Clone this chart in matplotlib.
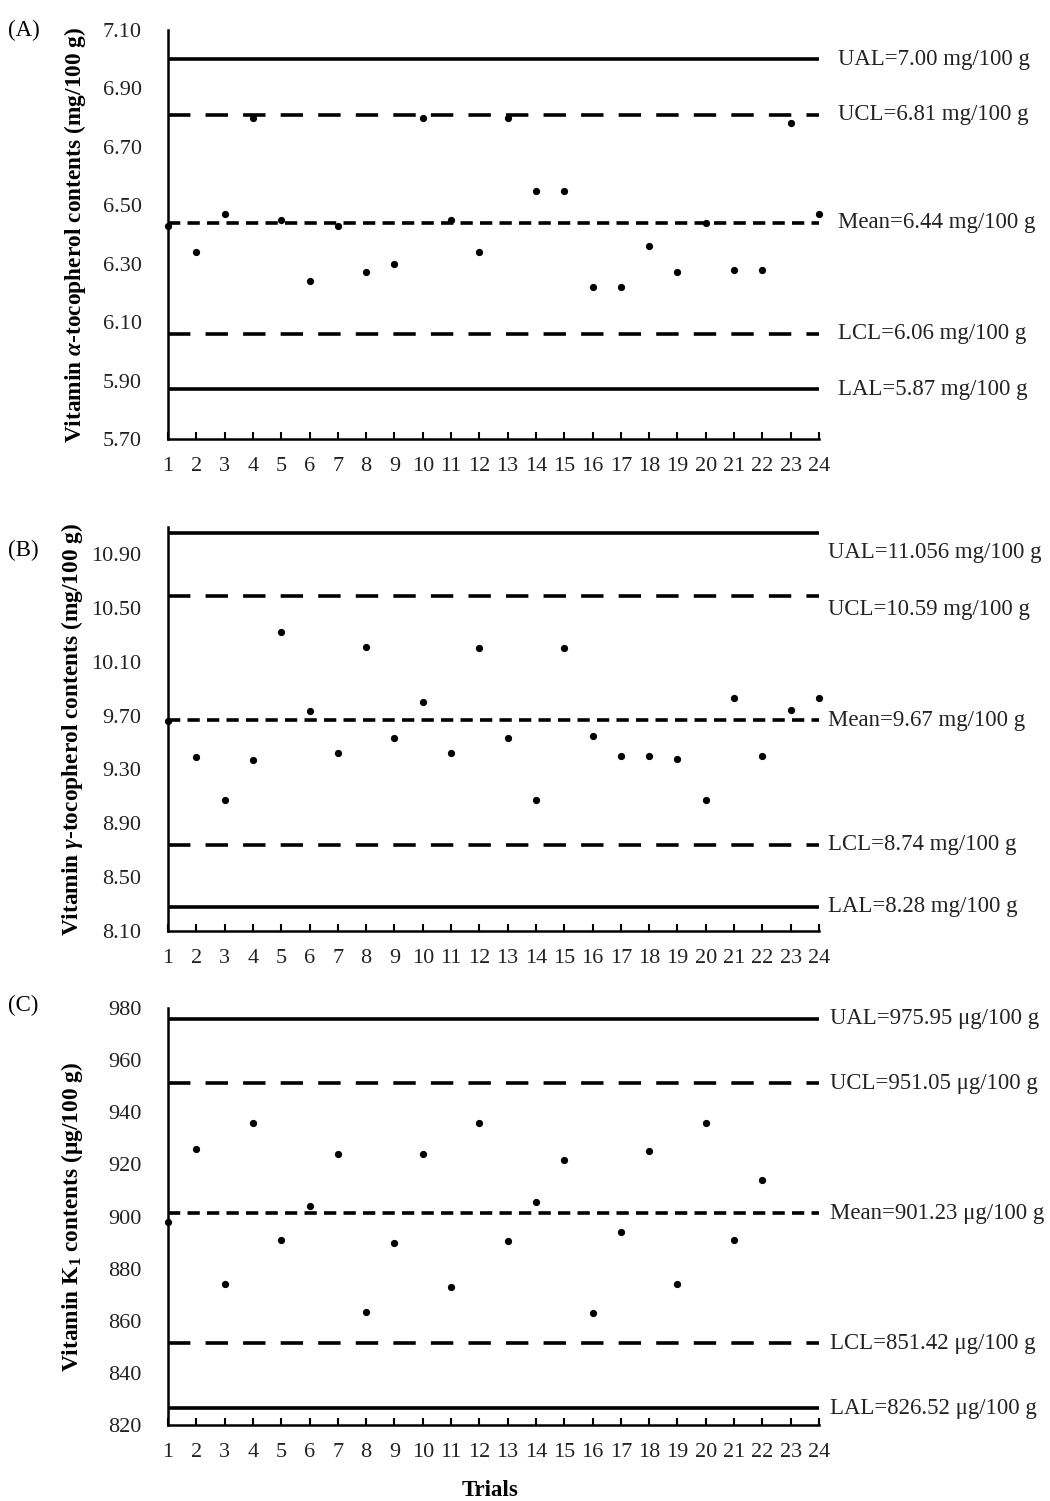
import matplotlib
matplotlib.use("Agg")
import matplotlib.pyplot as plt
from matplotlib.transforms import blended_transform_factory

plt.rcParams['font.family'] = ['Liberation Serif', 'DejaVu Serif']
plt.rcParams['mathtext.fontset'] = 'custom'
plt.rcParams['mathtext.rm'] = 'Liberation Serif'
plt.rcParams['mathtext.it'] = 'Liberation Serif:italic'
plt.rcParams['mathtext.bf'] = 'Liberation Serif:bold'
plt.rcParams['mathtext.bfit'] = 'Liberation Serif:italic:bold'

# ---------------- data ----------------
trials = list(range(1, 25))
tick_labels = [str(t) for t in trials]

alpha_vals = [6.43, 6.34, 6.47, 6.80, 6.45, 6.24, 6.43, 6.27, 6.30, 6.80, 6.45, 6.34,
              6.80, 6.55, 6.55, 6.22, 6.22, 6.36, 6.27, 6.44, 6.28, 6.28, 6.78, 6.47]
gamma_vals = [9.66, 9.39, 9.07, 9.37, 10.32, 9.73, 9.42, 10.21, 9.53, 9.80, 9.42, 10.20,
              9.53, 9.07, 10.20, 9.55, 9.40, 9.40, 9.38, 9.07, 9.83, 9.40, 9.74, 9.83]
k1_trials = list(range(1, 23))
k1_vals = [898, 926, 874, 936, 891, 904, 924, 863.5, 890, 924, 873, 936,
           890.5, 905.5, 921.5, 863, 894, 925, 874, 936, 891, 914]

limit_names = ['UAL', 'UCL', 'Mean', 'LCL', 'LAL']
alpha_limits = [7.00, 6.81, 6.44, 6.06, 5.87]
alpha_limit_text = ['7.00', '6.81', '6.44', '6.06', '5.87']
gamma_limits = [11.056, 10.59, 9.67, 8.74, 8.28]
gamma_limit_text = ['11.056', '10.59', '9.67', '8.74', '8.28']
k1_limits = [975.95, 951.05, 901.23, 851.42, 826.52]
k1_limit_text = ['975.95', '951.05', '901.23', '851.42', '826.52']

alpha_yticks = [5.70, 5.90, 6.10, 6.30, 6.50, 6.70, 6.90, 7.10]
gamma_yticks = [8.10, 8.50, 8.90, 9.30, 9.70, 10.10, 10.50, 10.90]
k1_yticks = [820, 840, 860, 880, 900, 920, 940, 960, 980]

# ---------------- layout ----------------
W, H = 1050, 1501
fig = plt.figure(figsize=(W / 100, H / 100), dpi=100)


def rect(left, top, right, bottom):
    return [left / W, 1 - bottom / H, (right - left) / W, (bottom - top) / H]


panels = [
    dict(rect=rect(168, 30, 819, 439), x=trials, y=alpha_vals, lim=(5.70, 7.10),
         yticks=alpha_yticks, yfmt='{:.2f}', limits=alpha_limits, ltext=alpha_limit_text,
         unit='mg/100 g', lx=1.029, loff=[0, 0, 0, 0, 0],
         ylabel=r'Vitamin $\mathbfit{\alpha}$-tocopherol contents (mg/100 g)',
         letter='(A)', letter_y=30, ylab_x=75),
    dict(rect=rect(168, 527, 819, 931), x=trials, y=gamma_vals, lim=(8.10, 11.10),
         yticks=gamma_yticks, yfmt='{:.2f}', limits=gamma_limits, ltext=gamma_limit_text,
         unit='mg/100 g', lx=1.014, loff=[-0.145, -0.10, -0.01, 0, 0],
         ylabel=r'Vitamin $\mathbfit{\gamma}$-tocopherol contents (mg/100 g)',
         letter='(B)', letter_y=550, ylab_x=72),
    dict(rect=rect(168, 1008, 819, 1425), x=k1_trials, y=k1_vals, lim=(820, 980),
         yticks=k1_yticks, yfmt='{:.0f}', limits=k1_limits, ltext=k1_limit_text,
         unit='\u03bcg/100 g', lx=1.017, loff=[0, 0, 0, 0, 0],
         ylabel=r'Vitamin K$_\mathbf{1}$ contents (μg/100 g)',
         letter='(C)', letter_y=1005, ylab_x=72),
]

styles = {
    'UAL': dict(linestyle='-', lw=2.6),
    'UCL': dict(linestyle=(0, (6.2, 4.2)), lw=2.6),
    'Mean': dict(linestyle=(0, (3.4, 2.0)), lw=2.6),
    'LCL': dict(linestyle=(0, (6.2, 4.2)), lw=2.6),
    'LAL': dict(linestyle='-', lw=2.6),
}

for p in panels:
    ax = fig.add_axes(p['rect'])
    ax.set_xlim(1, 24)
    ax.set_ylim(*p['lim'])
    for name, val in zip(limit_names, p['limits']):
        ax.plot([1, 24], [val, val], color='black', solid_capstyle='butt',
                dash_capstyle='butt', clip_on=False, **styles[name])
    ax.plot(p['x'], p['y'], 'o', color='black', markersize=4.2, clip_on=False, zorder=5)

    for s in ['top', 'right']:
        ax.spines[s].set_visible(False)
    for s in ['left', 'bottom']:
        ax.spines[s].set_linewidth(1.8)
    ax.set_xticks(trials)
    ax.set_xticklabels(tick_labels)
    ax.tick_params(axis='x', direction='in', length=5, width=1.5, pad=13,
                   labelsize=16, labelcolor='#222222')
    ax.set_yticks(p['yticks'])
    ax.set_yticklabels([p['yfmt'].format(v) for v in p['yticks']])
    ax.tick_params(axis='y', length=0, pad=19, labelsize=16, labelcolor='#222222')

    tr = blended_transform_factory(ax.transAxes, ax.transData)
    for name, val, txt, off in zip(limit_names, p['limits'], p['ltext'], p['loff']):
        ax.text(p['lx'], val + off, f'{name}={txt} {p["unit"]}', transform=tr,
                ha='left', va='center', fontsize=16.4, color='#222222', clip_on=False)

    # y label
    y0 = (p['rect'][1] + p['rect'][3] / 2)
    fig.text(p['ylab_x'] / W, y0, p['ylabel'], rotation=90, ha='center', va='center',
             fontsize=16.8, fontweight='bold')
    fig.text(8 / W, 1 - p['letter_y'] / H, p['letter'], ha='left', va='center',
             fontsize=16.5)

fig.text(490 / W, 1 - 1490 / H, 'Trials', ha='center', va='center',
         fontsize=16.5, fontweight='bold')

fig.savefig('out.png', dpi=100)
